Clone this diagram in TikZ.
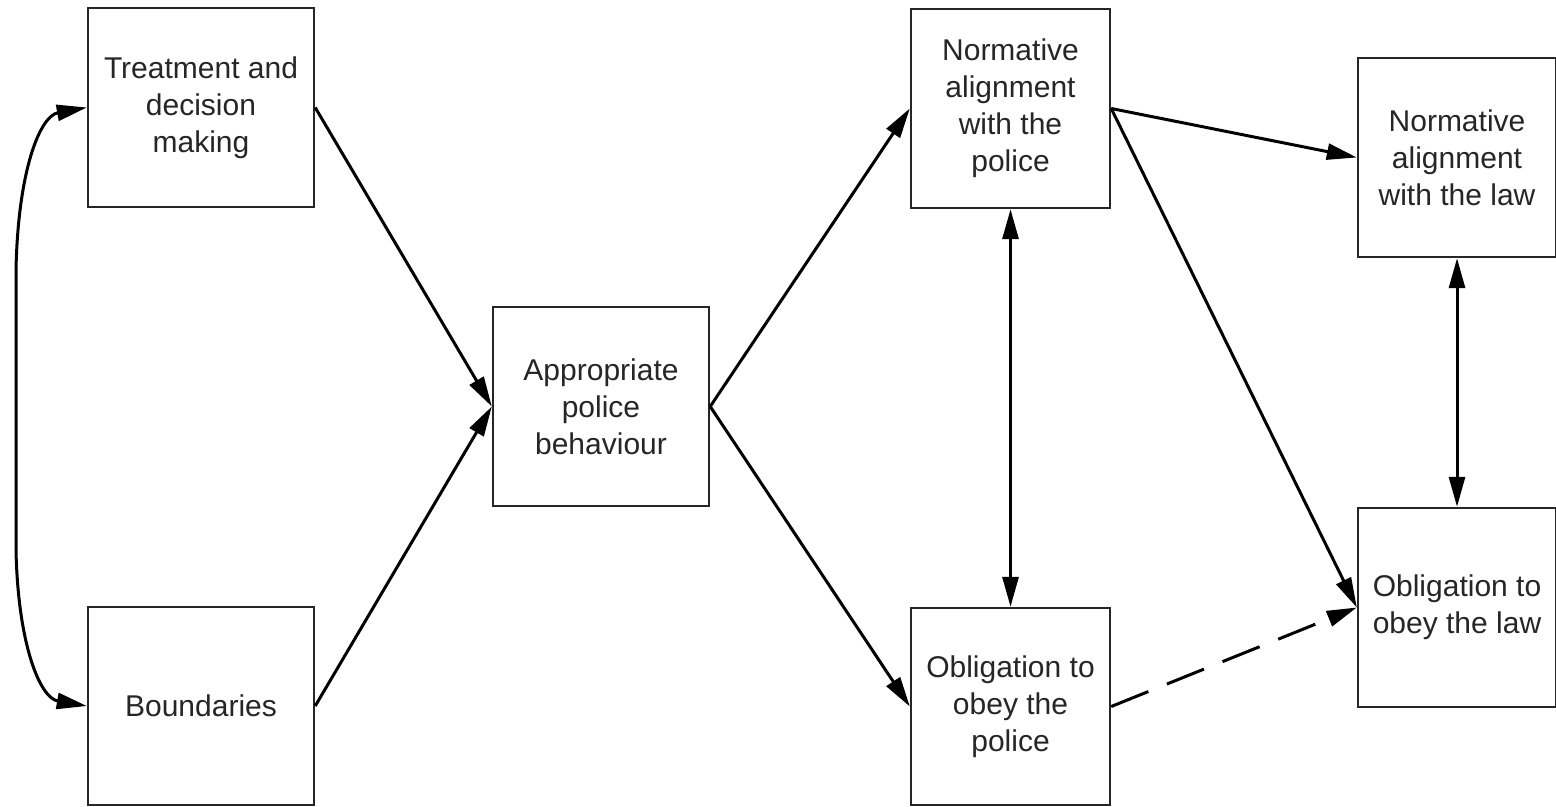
\documentclass[tikz,border=0pt]{standalone}
\usepackage{fontspec}
\setmainfont{Liberation Sans}
\usetikzlibrary{arrows.meta}
\begin{document}
\begin{tikzpicture}[x=0.5pt,y=-0.5pt,
  boxnode/.style={draw=black!85, line width=1.2pt, fill=white, align=center, inner sep=0pt,
    font=\fontsize{15}{18.5}\selectfont, text=black!85},
  conn/.style={line width=1.5pt, -{Triangle[length=15pt,width=8pt]}},
  biconn/.style={line width=1.5pt, {Triangle[length=15pt,width=8pt]}-{Triangle[length=15pt,width=8pt]}},
  dashconn/.style={conn, dash pattern=on 20pt off 10pt}]
\useasboundingbox (0,0) rectangle (1556,807);
\node[boxnode, minimum width=113pt, minimum height=99.5pt] (A) at (201,107.5) {Treatment and\\decision\\making};
\node[boxnode, minimum width=113pt, minimum height=99pt] (B) at (201,706) {Boundaries};
\node[boxnode, minimum width=108pt, minimum height=99.5pt] (C) at (601,406.5) {Appropriate\\police\\behaviour};
\node[boxnode, minimum width=99.5pt, minimum height=99.5pt] (D) at (1010.5,108.5) {Normative\\alignment\\with the\\police};
\node[boxnode, minimum width=99.5pt, minimum height=98.5pt] (E) at (1010.5,706.5) {Obligation to\\obey the\\police};
\node[boxnode, minimum width=99pt, minimum height=99.5pt] (F) at (1457,157.5) {Normative\\alignment\\with the law};
\node[boxnode, minimum width=99pt, minimum height=99.5pt] (G) at (1457,607.5) {Obligation to\\obey the law};
\coordinate (c1) at (16,270);
\coordinate (c2) at (16,550);
\draw[biconn] (A.west) .. controls (40,116) and (18,170) .. (c1) -- (c2) .. controls (18,645) and (40,698) .. (B.west);
\draw[conn] (A.east) -- (C.west);
\draw[conn] (B.east) -- (C.west);
\draw[conn] (C.east) -- (D.west);
\draw[conn] (C.east) -- (E.west);
\draw[biconn] (D.south) -- (E.north);
\draw[conn] (D.east) -- (F.west);
\draw[conn] (D.east) -- (G.west);
\draw[dashconn] (E.east) -- (G.west);
\draw[biconn] (F.south) -- (G.north);
\end{tikzpicture}
\end{document}
